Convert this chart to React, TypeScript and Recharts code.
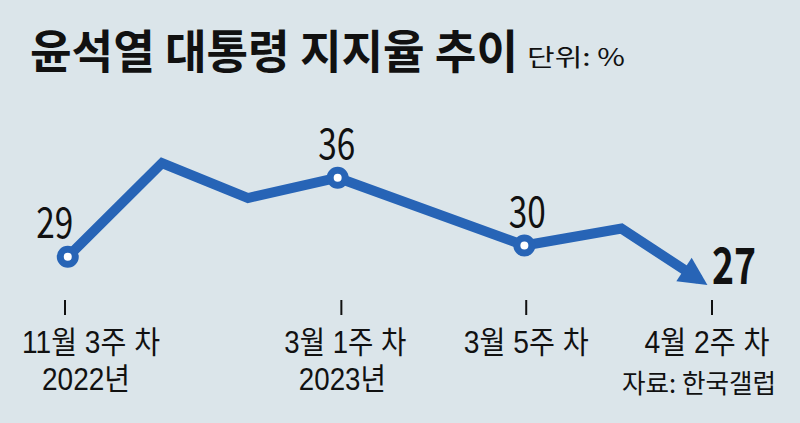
import React from 'react';
import { LineChart, Line, XAxis, YAxis, LabelList } from 'recharts';

// 조사 시점 (가로 위치, 그림에서 읽은 값)
const POSITIONS = [0.03, 1.05, 1.98, 2.95, 4.97, 6.02, 6.86];
// 지지율 (%)
const APPROVAL = [29, 37.3, 34.2, 36, 30, 31.5, 27];
// 숫자가 표시된 지점
const SHOWN_VALUES = [29, null, null, 36, 30, null, 27];

const TICK_POSITIONS = [0, 2.99, 4.99, 7];
const TICK_LABELS = ['11월 3주 차', '3월 1주 차', '3월 5주 차', '4월 2주 차'];
const TICK_YEARS = ['2022년', '2023년', '', ''];

const BLUE = '#2764b6';
const BG = '#dbe5ea';
const FONT = '"Noto Sans CJK KR", "Noto Sans", sans-serif';
const TICK_FONT = '"Liberation Sans", "Noto Sans CJK KR", sans-serif';

// 눈금 글자 배치 (스타일)
const TICK_DX = [26, 4, 0, -5];
const TICK_W = [138, 122, 125, 125];
const YEAR_DX = [21, 1, 0, 0];
const YEAR_W = [88, 87, 0, 0];

const chartData = POSITIONS.map((pos, i) => ({
  pos,
  value: APPROVAL[i],
  shown: SHOWN_VALUES[i],
}));

function AxisTick(props: any) {
  const { x, y, index } = props;
  return (
    <g>
      <line x1={x} x2={x} y1={y - 2} y2={y + 13} stroke="#111" strokeWidth={2} />
      <text
        x={x + TICK_DX[index]}
        y={y + 51}
        textAnchor="middle"
        fontSize={31}
        fontFamily={TICK_FONT}
        fill="#111"
        textLength={TICK_W[index]}
        lengthAdjust="spacingAndGlyphs"
      >
        {TICK_LABELS[index]}
      </text>
      {TICK_YEARS[index] && (
        <text
          x={x + YEAR_DX[index]}
          y={y + 88}
          textAnchor="middle"
          fontSize={31}
          fontFamily={TICK_FONT}
          fill="#111"
          textLength={YEAR_W[index]}
          lengthAdjust="spacingAndGlyphs"
        >
          {TICK_YEARS[index]}
        </text>
      )}
    </g>
  );
}

function renderDot(props: any) {
  const { cx, cy, index, points } = props;
  if (index === APPROVAL.length - 1) {
    // 화살표 머리
    let dx = 0.856;
    let dy = 0.518;
    if (points && points[index - 1]) {
      const px = cx - points[index - 1].x;
      const py = cy - points[index - 1].y;
      const len = Math.sqrt(px * px + py * py);
      dx = px / len;
      dy = py / len;
    }
    const tipX = cx + dx * 10;
    const tipY = cy + dy * 10;
    const bx = tipX - dx * 28;
    const by = tipY - dy * 28;
    const pts = `${tipX},${tipY} ${bx - dy * 14},${by + dx * 14} ${bx + dy * 14},${by - dx * 14}`;
    return <polygon key={`dot-${index}`} points={pts} fill={BLUE} />;
  }
  if (SHOWN_VALUES[index] == null) return <g key={`dot-${index}`} />;
  return (
    <circle key={`dot-${index}`} cx={cx} cy={cy} r={7.5} fill="#fff" stroke={BLUE} strokeWidth={7} />
  );
}

function renderLabel(props: any) {
  const { x, y, value, index } = props;
  if (value == null) return null;
  if (index === APPROVAL.length - 1) {
    return (
      <text
        x={x + 13}
        y={y + 5}
        fontSize={50}
        fontWeight={700}
        fontFamily={FONT}
        fill="#111"
        textLength={44}
        lengthAdjust="spacingAndGlyphs"
      >
        {value}
      </text>
    );
  }
  const dxs: Record<number, number> = { 0: -13, 3: -1, 4: 3 };
  return (
    <text
      x={x + (dxs[index] ?? 0)}
      y={y - 19}
      textAnchor="middle"
      fontSize={42}
      fontFamily={FONT}
      fill="#111"
      textLength={37}
      lengthAdjust="spacingAndGlyphs"
    >
      {value}
    </text>
  );
}

export default function App() {
  return (
    <div style={{ position: 'absolute', left: 0, top: 0, width: 800, height: 423, background: BG }}>
      <LineChart
        width={800}
        height={423}
        data={chartData}
        margin={{ top: 76, right: 88, bottom: 0, left: 65 }}
      >
        <XAxis
          dataKey="pos"
          type="number"
          domain={[0, 7]}
          ticks={TICK_POSITIONS}
          axisLine={false}
          tickLine={false}
          tickSize={0}
          tickMargin={0}
          height={121}
          interval={0}
          tick={<AxisTick />}
        />
        <YAxis hide domain={[25, 45]} />
        <Line
          type="linear"
          dataKey="value"
          stroke={BLUE}
          strokeWidth={10}
          strokeLinejoin="miter"
          dot={renderDot}
          activeDot={false}
          isAnimationActive={false}
        >
          <LabelList dataKey="shown" content={renderLabel} />
        </Line>
      </LineChart>
      <svg
        width={800}
        height={423}
        style={{ position: 'absolute', left: 0, top: 0, pointerEvents: 'none' }}
      >
        <text
          x={30}
          y={68}
          fontSize={46}
          fontWeight={700}
          fontFamily={FONT}
          fill="#111"
          textLength={488}
          lengthAdjust="spacingAndGlyphs"
        >
          윤석열 대통령 지지율 추이
        </text>
        <text
          x={527}
          y={66}
          fontSize={24}
          fontFamily={FONT}
          fill="#111"
          textLength={98}
          lengthAdjust="spacingAndGlyphs"
        >
          단위: %
        </text>
        <text
          x={622}
          y={393}
          fontSize={26}
          fontFamily={FONT}
          fill="#111"
          textLength={154}
          lengthAdjust="spacingAndGlyphs"
        >
          자료: 한국갤럽
        </text>
      </svg>
    </div>
  );
}
